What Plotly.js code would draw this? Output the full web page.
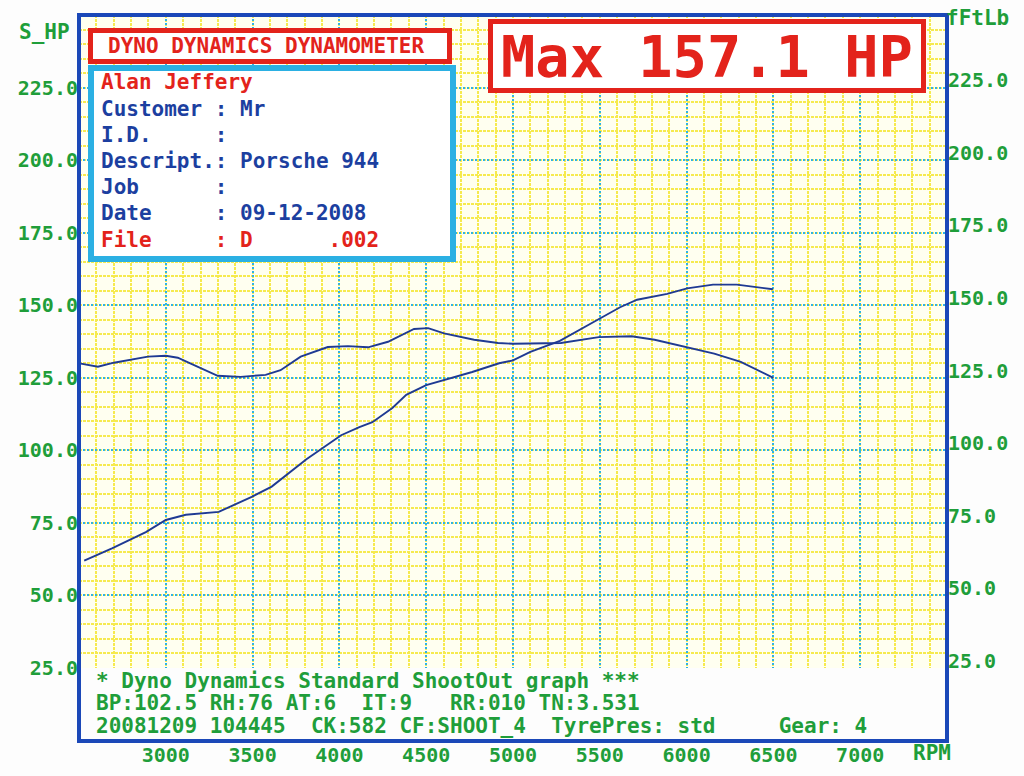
<!DOCTYPE html>
<html>
<head>
<meta charset="utf-8">
<script src="https://cdn.plot.ly/plotly-3.0.1.min.js"></script>
<style>
  html, body { margin: 0; padding: 0; background: #fdfdfd; }
  #chart { width: 1024px; height: 776px; }
</style>
</head>
<body>
<div id="chart"></div>
<script>
// ---- data ----
const rpmHP = [2530, 2690, 2885, 3000, 3115, 3305, 3495, 3610, 3810, 3925, 4010, 4115, 4190, 4305, 4385, 4500, 4615, 4765, 4920, 5000, 5100, 5270, 5485, 5617, 5715, 5888, 6003, 6152, 6290, 6405, 6497];
const hp    = [62.0, 66.2, 71.8, 76.0, 77.8, 78.8, 84.0, 87.5, 96.9, 101.7, 105.2, 108.0, 109.7, 114.6, 119.1, 122.5, 124.5, 127.0, 130.0, 131.0, 133.9, 137.7, 144.9, 149.3, 151.9, 153.9, 155.8, 157.1, 157.1, 156.2, 155.5];

const rpmTq = [2511, 2609, 2701, 2897, 3000, 3069, 3144, 3299, 3431, 3575, 3661, 3777, 3933, 4049, 4165, 4280, 4430, 4511, 4603, 4776, 4914, 5000, 5098, 5276, 5494, 5683, 5816, 6011, 6159, 6312, 6500];
const torque = [127.4, 126.3, 127.7, 129.8, 130.1, 129.4, 127.4, 123.2, 122.8, 123.5, 125.1, 129.8, 133.1, 133.4, 133.0, 134.9, 139.3, 139.6, 137.8, 135.6, 134.5, 134.2, 134.3, 134.5, 136.5, 136.8, 135.6, 133.0, 130.8, 128.0, 122.5];

const rpmTicks = [3000, 3500, 4000, 4500, 5000, 5500, 6000, 6500, 7000];
const hpTicks  = [25, 50, 75, 100, 125, 150, 175, 200, 225];
const tqTicks  = [25, 50, 75, 100, 125, 150, 175, 200, 225];

const leftAxisTitle  = "S_HP";
const rightAxisTitle = "fFtLb";
const xAxisTitle     = "RPM";
const headerText = "DYNO DYNAMICS DYNAMOMETER";
const maxText    = "Max 157.1 HP";
const infoLines  = [
  "Alan Jeffery",
  "Customer : Mr",
  "I.D.     :",
  "Descript.: Porsche 944",
  "Job      :",
  "Date     : 09-12-2008",
  "File     : D      .002"
];
const footerLines = [
  "* Dyno Dynamics Standard ShootOut graph ***",
  "BP:102.5 RH:76 AT:6  IT:9   RR:010 TN:3.531",
  "20081209 104445  CK:582 CF:SHOOT_4  TyrePres: std     Gear: 4"
];

// ---- styling / geometry ----
const W = 1024, H = 776;
const PL = 79, PR = 947, PT = 15, PB = 668;
const PW = PR - PL, PH = PB - PT;
const px = x => (x - PL) / PW;
const py = y => (PB - y) / PH;
const nb = s => s.replace(/ /g, "\u00A0");

const MONO = "DejaVu Sans Mono, Liberation Mono, monospace";
const GREEN = "#1f9e3a", RED = "#e3231b", BLUE = "#1c3fa0", CYAN = "#2bb0e3", FRAME = "#1b48b8";
const YELLOW = "#f6ea4e", MAJOR = "#30b2e4";

const tickFont = {family: MONO, size: 20, color: GREEN, weight: "bold"};

const traces = [
  {x: rpmHP, y: hp, type: "scatter", mode: "lines", yaxis: "y",
   line: {color: "#1f3a93", width: 1.9}, hoverinfo: "skip", showlegend: false},
  {x: rpmTq, y: torque, type: "scatter", mode: "lines", yaxis: "y2",
   line: {color: "#1f3a93", width: 1.9}, hoverinfo: "skip", showlegend: false}
];

const annotations = [];
function addText(text, x, y, size, color, xanchor) {
  annotations.push({text: nb(text), xref: "paper", yref: "paper", x: px(x), y: py(y),
    xanchor: xanchor || "left", yanchor: "middle", showarrow: false,
    font: {family: MONO, size: size, color: color, weight: "bold"}});
}
addText(headerText, 106, 46, 21, RED);
const infoY = [82, 109, 135, 161, 187, 213, 240];
infoLines.forEach((t, i) => addText(t, 99, infoY[i], 21, (i === 0 || i === 6) ? RED : BLUE));
addText(maxText, 707, 57, 57, RED, "center");
const footY = [681, 703, 726];
footerLines.forEach((t, i) => addText(t, 94, footY[i], 21, GREEN));
addText(leftAxisTitle, 17, 32, 21, GREEN);
addText(rightAxisTitle, 944, 18, 21, GREEN);
addText(xAxisTitle, 911, 753, 21, GREEN);

function rect(x0, y0, x1, y1, color, width, fill) {
  return {type: "rect", xref: "paper", yref: "paper", layer: "above",
    x0: px(x0), x1: px(x1), y0: py(y1), y1: py(y0),
    line: {color: color, width: width}, fillcolor: fill || "rgba(0,0,0,0)"};
}
const shapes = [
  rect(90.5, 30.5, 449.5, 61.5, RED, 5, "#ffffff"),
  rect(91, 68, 453, 259, CYAN, 6, "#ffffff"),
  rect(490.5, 21.5, 923.5, 90.5, RED, 5, "#ffffff"),
  rect(79, 15, 947, 741, FRAME, 4)
];

const gridCommon = {showgrid: true, gridcolor: MAJOR, griddash: "2px,2px", gridwidth: 2,
  zeroline: false, showline: false, ticks: "", tickfont: tickFont};
const minorGrid = {showgrid: true, gridcolor: YELLOW, griddash: "3px,1px", gridwidth: 2};

const layout = {
  width: W, height: H,
  margin: {l: PL, r: W - PR, t: PT, b: H - PB, pad: 0},
  paper_bgcolor: "#fdfdfd",
  plot_bgcolor: "#fffff0",
  showlegend: false,
  xaxis: Object.assign({}, gridCommon, {
    range: [2500, 7500], tickmode: "array", tickvals: rpmTicks,
    ticktext: rpmTicks.map(String), ticklabelstandoff: 73,
    minor: Object.assign({tickmode: "linear", tick0: 2500, dtick: 100}, minorGrid)
  }),
  yaxis: Object.assign({}, gridCommon, {
    range: [25, 250], tickmode: "array", tickvals: hpTicks,
    ticktext: hpTicks.map(v => v.toFixed(1)),
    minor: Object.assign({tickmode: "linear", tick0: 25, dtick: 5}, minorGrid)
  }),
  yaxis2: {
    overlaying: "y", side: "right", range: [22.5, 247.5],
    tickmode: "array", tickvals: tqTicks, ticktext: tqTicks.map(v => v.toFixed(1)),
    showgrid: false, zeroline: false, showline: false, ticks: "", tickfont: tickFont
  },
  annotations: annotations,
  shapes: shapes
};

Plotly.newPlot("chart", traces, layout, {staticPlot: true, displayModeBar: false});
</script>
</body>
</html>
